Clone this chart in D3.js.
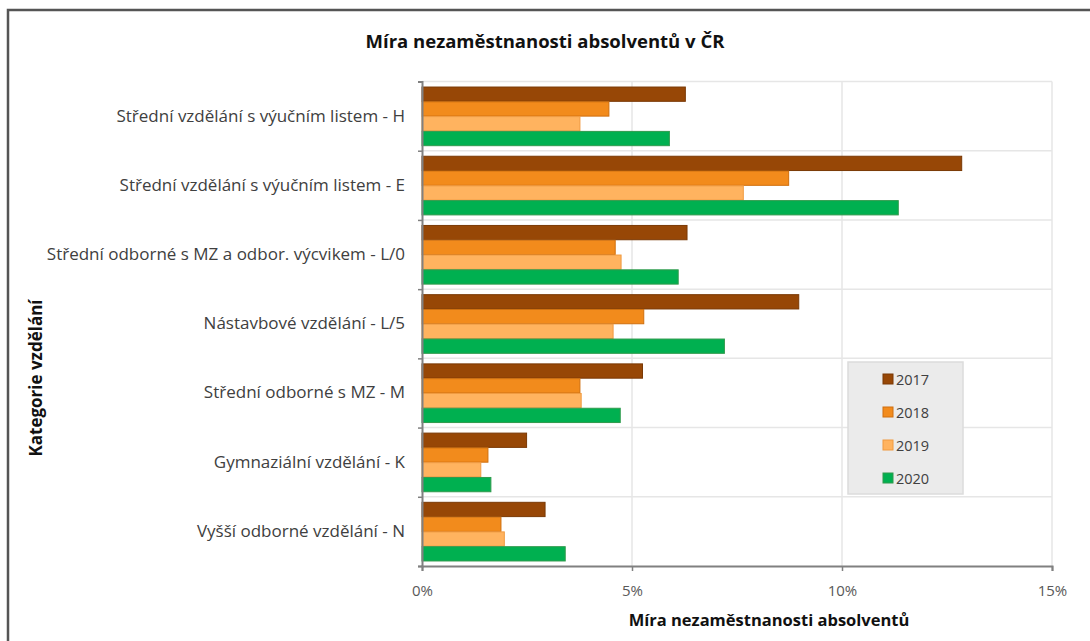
<!DOCTYPE html>
<meta charset="utf-8">
<script src="https://d3js.org/d3.v7.min.js"></script>
<style>
  body { margin: 0; background: #fff; font-family: "Open Sans", "Noto Sans", sans-serif; }
  svg { display: block; }
</style>
<div id="chart"></div>
<script>

// data (unemployment rate of graduates, %)
var categories = [
  "Střední vzdělání s výučním listem - H",
  "Střední vzdělání s výučním listem - E",
  "Střední odborné s MZ a odbor. výcvikem - L/0",
  "Nástavbové vzdělání - L/5",
  "Střední odborné s MZ - M",
  "Gymnaziální vzdělání - K",
  "Vyšší odborné vzdělání - N"
]
var years = ["2017", "2018", "2019", "2020"]
var v2017 = [6.27, 12.85, 6.31, 8.97, 5.25, 2.49, 2.93]
var v2018 = [4.45, 8.73, 4.60, 5.28, 3.76, 1.57, 1.88]
var v2019 = [3.76, 7.65, 4.74, 4.55, 3.79, 1.40, 1.96]
var v2020 = [5.89, 11.34, 6.10, 7.20, 4.72, 1.64, 3.41]
var xTicks = [0, 5, 10, 15]

var series = [v2017, v2018, v2019, v2020]
var fills = ["#974706", "#f28b1c", "#ffb35f", "#00b050"]
var strokes = ["#7a3905", "#cf6f0e", "#f09a40", "#2f9a4c"]

var width = 1090, height = 641
var plot = {left: 422, right: 1052, top: 81.5, bottom: 566}

var svg = d3.select("#chart").append("svg")
  .attr("width", width)
  .attr("height", height)

// outer frame
svg.append("rect")
  .attr("x", 8).attr("y", 10)
  .attr("width", 1200).attr("height", 800)
  .attr("fill", "none")
  .attr("stroke", "#555")
  .attr("stroke-width", 2.5)

// scales
var x = d3.scaleLinear().domain([0, 15]).range([plot.left, plot.right])
var y0 = d3.scaleBand().domain(categories).range([plot.top, plot.bottom]).padding(0)
var y1 = d3.scaleBand().domain(years).range([0, y0.bandwidth()]).paddingInner(0).paddingOuter(0.34)
var yIdx = d3.scaleLinear().domain([0, categories.length]).range([plot.top, plot.bottom])

// gridlines
svg.append("g")
  .selectAll("line.v")
  .data(xTicks.slice(1))
  .enter().append("line")
  .attr("x1", d => x(d)).attr("x2", d => x(d))
  .attr("y1", plot.top).attr("y2", plot.bottom)
  .attr("stroke", "#e6e6e6").attr("stroke-width", 1.5)

svg.append("g")
  .selectAll("line.h")
  .data(d3.range(0, categories.length))
  .enter().append("line")
  .attr("x1", plot.left).attr("x2", plot.right)
  .attr("y1", d => yIdx(d)).attr("y2", d => yIdx(d))
  .attr("stroke", "#e6e6e6").attr("stroke-width", 1.5)

// bars
var groups = svg.append("g")
  .selectAll("g")
  .data(categories)
  .enter().append("g")
  .attr("transform", d => "translate(0," + y0(d) + ")")

groups.selectAll("rect")
  .data((d, i) => years.map((yr, j) => ({year: yr, j: j, value: series[j][i]})))
  .enter().append("rect")
  .attr("x", x(0))
  .attr("y", d => y1(d.year) + 0.5)
  .attr("width", d => x(d.value) - x(0))
  .attr("height", y1.bandwidth() - 0.5)
  .attr("fill", d => fills[d.j])
  .attr("stroke", d => strokes[d.j])
  .attr("stroke-width", 1)

// x axis
var xAxis = svg.append("g")
  .attr("transform", "translate(0," + plot.bottom + ")")
  .call(d3.axisBottom(x).tickValues(xTicks).tickSize(5).tickPadding(14).tickFormat(d => d + "%"))
xAxis.select(".domain").attr("stroke", "#808080").attr("stroke-width", 2)
xAxis.selectAll(".tick line").attr("stroke", "#808080").attr("stroke-width", 1.5)
xAxis.selectAll("text")
  .attr("fill", "#595959")
  .style("font-size", "15px")
  .style("font-family", "'Open Sans', sans-serif")

// y axis: boundary ticks
var yAxis = svg.append("g")
  .attr("transform", "translate(" + plot.left + ",0)")
  .call(d3.axisLeft(yIdx).tickValues(d3.range(0, categories.length + 1)).tickSize(4).tickFormat(""))
yAxis.select(".domain").attr("stroke", "#808080").attr("stroke-width", 2)
yAxis.selectAll(".tick line").attr("stroke", "#808080").attr("stroke-width", 1.5)

// category labels
var yLab = svg.append("g")
  .attr("transform", "translate(" + plot.left + ",0)")
  .call(d3.axisLeft(y0).tickSize(0).tickPadding(17))
yLab.select(".domain").remove()
yLab.selectAll("text")
  .attr("fill", "#404040")
  .style("font-size", "17px")
  .style("font-family", "'Open Sans', sans-serif")

// titles
svg.append("text")
  .attr("x", 545).attr("y", 48)
  .attr("text-anchor", "middle")
  .style("font-size", "18.5px")
  .style("font-weight", "bold")
  .attr("fill", "#111")
  .text("Míra nezaměstnanosti absolventů v ČR")

svg.append("text")
  .attr("x", 769).attr("y", 626)
  .attr("text-anchor", "middle")
  .style("font-size", "16.5px")
  .style("font-weight", "bold")
  .attr("fill", "#111")
  .text("Míra nezaměstnanosti absolventů")

svg.append("text")
  .attr("transform", "translate(42,378) rotate(-90)")
  .attr("text-anchor", "middle")
  .style("font-size", "17px")
  .style("font-weight", "bold")
  .attr("fill", "#111")
  .text("Kategorie vzdělání")

// legend
svg.append("rect")
  .attr("x", 848).attr("y", 362)
  .attr("width", 115).attr("height", 132)
  .attr("fill", "#ebebeb")
  .attr("stroke", "#dcdcdc")
  .attr("stroke-width", 1.5)

var legendY = d3.scalePoint().domain(years).range([379, 478])
var items = svg.append("g")
  .selectAll("g")
  .data(years)
  .enter().append("g")
  .attr("transform", d => "translate(883," + legendY(d) + ")")
items.append("rect")
  .attr("x", 0).attr("y", -5)
  .attr("width", 10).attr("height", 10)
  .attr("fill", (d, i) => fills[i])
  .attr("stroke", (d, i) => strokes[i])
items.append("text")
  .attr("x", 13).attr("y", 5.5)
  .attr("fill", "#404040")
  .style("font-size", "14.5px")
  .text(d => d)

</script>
